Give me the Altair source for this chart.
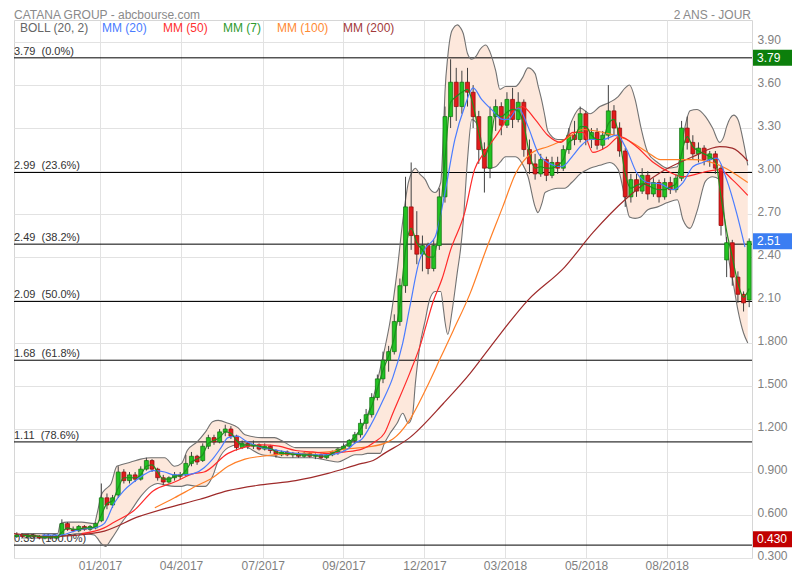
import altair as alt
import pandas as pd

# ---------------- data ----------------
# x = trading-session index; one candle per 4 sessions
candle_day = list(range(2, 524, 4))
opens = [0.45, 0.46, 0.45, 0.46, 0.45, 0.44, 0.45, 0.44, 0.46, 0.54,
         0.50, 0.49, 0.52, 0.50, 0.51, 0.56, 0.72, 0.67, 0.74, 0.90,
         0.84, 0.88, 0.85, 0.92, 0.98, 0.92, 0.86, 0.83, 0.86, 0.88,
         0.88, 0.96, 1.01, 0.98, 1.08, 1.14, 1.11, 1.18, 1.20, 1.15,
         1.07, 1.10, 1.08, 1.09, 1.06, 1.08, 1.05, 1.02, 1.04, 1.02,
         1.03, 1.01, 1.03, 1.01, 1.02, 1.00, 1.02, 1.04, 1.06, 1.08,
         1.12, 1.16, 1.24, 1.30, 1.42, 1.55, 1.68, 1.74, 1.95, 2.20,
         2.75, 2.55, 2.42, 2.48, 2.32, 2.48, 2.82, 3.38, 3.62, 3.45,
         3.62, 3.55, 3.38, 3.15, 3.02, 3.38, 3.45, 3.32, 3.50, 3.36,
         3.48, 3.15, 3.05, 2.98, 3.08, 2.97, 3.06, 3.02, 3.15, 3.25,
         3.22, 3.40, 3.22, 3.27, 3.18, 3.25, 3.42, 3.30, 3.14, 2.82,
         2.94, 2.86, 2.97, 2.84, 2.92, 2.82, 2.92, 2.87, 2.95, 3.30,
         3.20, 3.12, 3.16, 3.08, 3.12, 3.02, 2.38, 2.50, 2.26, 2.14,
         2.10]
highs = [0.48, 0.47, 0.47, 0.47, 0.46, 0.46, 0.46, 0.46, 0.57, 0.55,
         0.52, 0.53, 0.53, 0.53, 0.55, 0.82, 0.75, 0.74, 0.94, 0.92,
         0.90, 0.90, 0.94, 1.00, 0.99, 0.93, 0.88, 0.87, 0.90, 0.90,
         1.02, 1.04, 1.02, 1.10, 1.16, 1.16, 1.20, 1.23, 1.22, 1.16,
         1.12, 1.11, 1.12, 1.10, 1.10, 1.09, 1.06, 1.05, 1.05, 1.04,
         1.04, 1.04, 1.04, 1.03, 1.03, 1.03, 1.05, 1.07, 1.10, 1.13,
         1.18, 1.27, 1.34, 1.45, 1.58, 1.74, 1.78, 2.00, 2.25, 2.96,
         3.06, 2.72, 2.55, 2.50, 2.52, 2.88, 3.45, 3.78, 3.72, 3.70,
         3.72, 3.60, 3.42, 3.20, 3.45, 3.50, 3.48, 3.55, 3.58, 3.55,
         3.50, 3.22, 3.12, 3.12, 3.10, 3.10, 3.10, 3.18, 3.30, 3.35,
         3.45, 3.42, 3.30, 3.30, 3.28, 3.60, 3.46, 3.34, 3.16, 2.98,
         2.98, 3.02, 3.00, 2.95, 2.94, 2.95, 2.96, 2.98, 3.35, 3.38,
         3.25, 3.20, 3.18, 3.14, 3.14, 3.04, 2.54, 2.52, 2.30, 2.16,
         2.53]
lows = [0.44, 0.44, 0.44, 0.44, 0.43, 0.43, 0.43, 0.43, 0.45, 0.49,
        0.48, 0.48, 0.49, 0.49, 0.50, 0.55, 0.64, 0.65, 0.72, 0.82,
        0.82, 0.83, 0.84, 0.91, 0.90, 0.84, 0.81, 0.82, 0.84, 0.85,
        0.87, 0.94, 0.95, 0.97, 1.06, 1.09, 1.10, 1.15, 1.13, 1.05,
        1.06, 1.06, 1.06, 1.05, 1.05, 1.03, 1.00, 1.01, 1.01, 1.00,
        1.00, 1.00, 1.00, 0.99, 0.99, 0.99, 1.01, 1.02, 1.05, 1.07,
        1.10, 1.14, 1.20, 1.28, 1.40, 1.52, 1.60, 1.72, 1.92, 2.15,
        2.45, 2.35, 2.30, 2.28, 2.30, 2.45, 2.78, 3.30, 3.35, 3.40,
        3.45, 3.30, 3.05, 2.85, 2.95, 3.28, 3.25, 3.30, 3.30, 3.34,
        3.10, 2.98, 2.94, 2.96, 2.93, 2.95, 2.98, 3.00, 3.12, 3.18,
        3.20, 3.18, 3.16, 3.15, 3.15, 3.22, 3.25, 3.10, 2.75, 2.78,
        2.82, 2.84, 2.80, 2.82, 2.78, 2.80, 2.84, 2.85, 2.93, 3.15,
        3.08, 3.06, 3.04, 3.03, 2.98, 2.55, 2.26, 2.20, 2.08, 2.02,
        2.05]
closes = [0.46, 0.45, 0.46, 0.45, 0.44, 0.45, 0.44, 0.45, 0.54, 0.50,
          0.49, 0.52, 0.50, 0.52, 0.54, 0.72, 0.67, 0.72, 0.90, 0.84,
          0.88, 0.85, 0.92, 0.98, 0.92, 0.86, 0.83, 0.86, 0.88, 0.87,
          0.96, 1.01, 0.97, 1.08, 1.14, 1.11, 1.18, 1.20, 1.15, 1.07,
          1.10, 1.08, 1.09, 1.06, 1.08, 1.05, 1.02, 1.04, 1.02, 1.03,
          1.01, 1.03, 1.01, 1.02, 1.00, 1.02, 1.04, 1.06, 1.08, 1.12,
          1.16, 1.24, 1.30, 1.42, 1.55, 1.68, 1.74, 1.95, 2.20, 2.75,
          2.55, 2.42, 2.48, 2.32, 2.48, 2.82, 3.38, 3.62, 3.45, 3.62,
          3.55, 3.38, 3.15, 3.02, 3.38, 3.45, 3.32, 3.50, 3.36, 3.48,
          3.15, 3.05, 2.98, 3.08, 2.97, 3.06, 3.02, 3.15, 3.25, 3.22,
          3.40, 3.22, 3.27, 3.18, 3.25, 3.42, 3.30, 3.14, 2.82, 2.94,
          2.86, 2.97, 2.84, 2.92, 2.82, 2.92, 2.87, 2.95, 3.30, 3.20,
          3.12, 3.16, 3.08, 3.12, 3.02, 2.62, 2.50, 2.26, 2.14, 2.08,
          2.51]

ma7_day = candle_day[1:]
ma7 = [0.46, 0.455, 0.455, 0.45, 0.445, 0.445, 0.445, 0.48, 0.51, 0.50,
       0.50, 0.51, 0.51, 0.52, 0.60, 0.68, 0.70, 0.79, 0.86, 0.86,
       0.86, 0.88, 0.94, 0.95, 0.90, 0.85, 0.85, 0.87, 0.875, 0.91,
       0.97, 0.99, 1.02, 1.10, 1.12, 1.14, 1.18, 1.17, 1.12, 1.09,
       1.09, 1.085, 1.08, 1.07, 1.065, 1.04, 1.03, 1.03, 1.025, 1.02,
       1.02, 1.02, 1.015, 1.01, 1.01, 1.03, 1.05, 1.07, 1.10, 1.14,
       1.20, 1.27, 1.36, 1.48, 1.61, 1.71, 1.84, 2.07, 2.45, 2.60,
       2.50, 2.45, 2.40, 2.40, 2.63, 3.08, 3.48, 3.52, 3.55, 3.57,
       3.46, 3.27, 3.10, 3.20, 3.40, 3.38, 3.41, 3.43, 3.42, 3.32,
       3.12, 3.02, 3.03, 3.02, 3.02, 3.04, 3.08, 3.20, 3.23, 3.31,
       3.31, 3.25, 3.22, 3.22, 3.33, 3.36, 3.22, 2.98, 2.88, 2.90,
       2.91, 2.90, 2.88, 2.87, 2.87, 2.89, 2.91, 3.12, 3.24, 3.17,
       3.14, 3.12, 3.10, 3.07, 2.82, 2.58, 2.40, 2.22, 2.12, 2.18]

ma20_day = [20, 33, 47, 57, 64, 71, 78, 85, 92, 99, 107, 114, 121, 128, 135,
            141, 147, 152, 159, 164, 176, 188, 200, 212, 223, 230, 237, 242,
            247, 254, 261, 269, 276, 281, 288, 292, 299, 306, 313, 320, 326,
            332, 339, 347, 351, 358, 365, 372, 379, 389, 397, 402, 409, 418,
            428, 435, 442, 450, 459, 468, 475, 482, 489, 499, 506, 513, 519]
ma20 = [0.46, 0.46, 0.50, 0.51, 0.54, 0.68, 0.77, 0.83, 0.88, 0.91, 0.90,
        0.88, 0.88, 0.89, 0.93, 0.99, 1.07, 1.14, 1.15, 1.12, 1.07, 1.05,
        1.03, 1.02, 1.02, 1.03, 1.06, 1.10, 1.13, 1.24, 1.38, 1.56, 1.80,
        2.05, 2.38, 2.46, 2.54, 2.85, 3.22, 3.45, 3.58, 3.50, 3.43, 3.36,
        3.36, 3.44, 3.31, 3.13, 3.06, 3.03, 3.11, 3.17, 3.22, 3.22, 3.25,
        3.15, 2.99, 2.92, 2.91, 2.87, 2.92, 3.03, 3.06, 3.09, 2.94, 2.71,
        2.47]

ma50_day = [48, 64, 71, 85, 99, 114, 128, 135, 152, 176, 188, 200, 212, 223,
            235, 247, 256, 263, 269, 281, 288, 298, 304, 310, 320, 327, 334,
            344, 351, 361, 370, 379, 388, 397, 404, 411, 421, 430, 442, 454,
            466, 475, 489, 501, 510, 521]
ma50 = [0.47, 0.51, 0.55, 0.63, 0.77, 0.83, 0.89, 0.90, 1.03, 1.09, 1.08,
        1.05, 1.04, 1.03, 1.04, 1.06, 1.11, 1.17, 1.31, 1.59, 1.77, 2.10,
        2.25, 2.45, 2.71, 3.01, 3.13, 3.27, 3.38, 3.45, 3.36, 3.25, 3.20,
        3.27, 3.27, 3.13, 3.17, 3.24, 3.17, 3.06, 2.99, 2.96, 2.99, 3.01,
        2.94, 2.83]

ma100_day = [100, 114, 129, 141, 152, 164, 176, 200, 223, 235, 247, 263, 269,
             280, 293, 303, 312, 324, 334, 347, 356, 368, 379, 391, 404, 418,
             435, 450, 459, 482, 501, 512, 521]
ma100 = [0.65, 0.72, 0.80, 0.86, 0.94, 0.99, 1.01, 1.03, 1.04, 1.06, 1.07,
         1.10, 1.13, 1.25, 1.49, 1.70, 1.89, 2.15, 2.42, 2.75, 2.98, 3.13,
         3.17, 3.22, 3.29, 3.27, 3.22, 3.13, 3.08, 3.08, 3.04, 2.98, 2.92]

ma200_day = [0, 26, 61, 89, 109, 132, 152, 175, 200, 223, 247, 255, 263, 281,
             305, 324, 338, 365, 391, 411, 435, 459, 482, 501, 510, 521]
ma200 = [0.47, 0.45, 0.48, 0.59, 0.65, 0.71, 0.77, 0.81, 0.84, 0.89, 0.96,
         0.98, 1.03, 1.14, 1.38, 1.59, 1.77, 2.10, 2.33, 2.57, 2.81, 2.99,
         3.10, 3.17, 3.16, 3.07]

boll_day = [5, 18, 31, 33, 38, 48, 57, 59, 62, 65,
            69, 73, 76, 83, 90, 97, 102, 107, 114, 119,
            123, 130, 136, 141, 145, 152, 159, 164, 176, 185,
            190, 200, 212, 223, 230, 237, 242, 247, 251, 254,
            260, 263, 267, 272, 276, 280, 283, 285, 288, 292,
            295, 299, 303, 305, 306, 308, 311, 315, 317, 319,
            322, 325, 328, 331, 335, 338, 342, 345, 349, 356,
            361, 365, 370, 372, 375, 377, 379, 386, 391, 396,
            402, 409, 416, 423, 429, 434, 437, 441, 445, 450,
            457, 464, 471, 475, 480, 485, 491, 496, 501, 504,
            506, 511, 514, 518, 521]
boll_up = [0.47, 0.47, 0.47, 0.54, 0.55, 0.55, 0.54, 0.61, 0.74, 0.78,
           0.82, 0.94, 0.95, 0.97, 0.99, 1.00, 1.00, 1.00, 0.94, 0.96,
           1.05, 1.11, 1.18, 1.25, 1.26, 1.24, 1.21, 1.16, 1.14, 1.14,
           1.12, 1.07, 1.07, 1.07, 1.07, 1.10, 1.15, 1.21, 1.30, 1.38,
           1.62, 1.75, 1.95, 2.30, 2.65, 2.92, 3.00, 3.02, 2.98, 2.94,
           2.88, 2.85, 2.92, 3.30, 3.55, 3.80, 3.98, 4.02, 4.00, 3.96,
           3.82, 3.78, 3.80, 3.85, 3.88, 3.83, 3.70, 3.57, 3.59, 3.59,
           3.65, 3.72, 3.68, 3.60, 3.48, 3.38, 3.28, 3.22, 3.22, 3.35,
           3.44, 3.40, 3.45, 3.48, 3.52, 3.58, 3.60, 3.50, 3.31, 3.13,
           3.06, 3.02, 3.03, 3.24, 3.42, 3.43, 3.38, 3.30, 3.20, 3.24,
           3.31, 3.39, 3.36, 3.20, 3.04]
boll_low = [0.44, 0.44, 0.44, 0.45, 0.46, 0.47, 0.46, 0.44, 0.40, 0.38,
            0.43, 0.49, 0.54, 0.63, 0.73, 0.80, 0.82, 0.81, 0.80, 0.80,
            0.81, 0.80, 0.80, 0.87, 0.98, 1.07, 1.09, 1.08, 1.02, 1.01,
            1.00, 1.00, 1.00, 0.98, 0.97, 1.00, 1.02, 1.02, 1.03, 1.03,
            1.03, 1.10, 1.17, 1.24, 1.31, 1.24, 1.30, 1.52, 1.77, 1.96,
            2.10, 2.16, 2.16, 2.03, 1.95, 1.86, 2.02, 2.31, 2.45, 2.65,
            3.08, 3.36, 3.34, 3.25, 3.03, 3.02, 3.03, 3.06, 3.10, 3.10,
            3.05, 2.96, 2.75, 2.71, 2.78, 2.85, 2.86, 2.88, 2.88, 2.92,
            2.98, 3.02, 3.04, 3.06, 3.01, 2.80, 2.68, 2.67, 2.68, 2.73,
            2.75, 2.78, 2.80, 2.66, 2.60, 2.72, 2.93, 2.96, 2.94, 2.73,
            2.50, 2.20, 2.03, 1.87, 1.80]

fib_values = [3.79, 2.99, 2.49, 2.09, 1.68, 1.11, 0.39]
fib_pcts = ["0.0%", "23.6%", "38.2%", "50.0%", "61.8%", "78.6%", "100.0%"]

tick_days = [61.1, 118.6, 176.6, 233.9, 291.4, 348.6, 406.2, 463.5]
tick_labels = ["01/2017", "04/2017", "07/2017", "09/2017", "12/2017",
               "03/2018", "05/2018", "08/2018"]
price_ticks = [0.3, 0.6, 0.9, 1.2, 1.5, 1.8, 2.1, 2.4, 2.7, 3.0, 3.3, 3.6, 3.9]

badge_prices = [3.79, 2.51, 0.43]
badge_labels = ["3.79", "2.51", "0.430"]
badge_kinds = ["fib", "last", "low"]

legend_labels = ["BOLL (20, 2)", "MM (20)", "MM (50)", "MM (7)", "MM (100)", "MM (200)"]

# ---------------- styling / layout ----------------
FONT = "Liberation Sans"
W, H = 738, 538
legend_colors = ["#666666", "#4a7cff", "#ff3030", "#2e9a2e", "#ff8a33", "#a33a3a"]
legend_x = [6, 88, 149, 209, 263, 329]

xs = alt.Scale(domain=[0, 524], nice=False, zero=False, padding=0)
ys = alt.Scale(domain=[0.3, 4.054], nice=False, zero=False, padding=0)

labels_js = "[" + ",".join(f"'{l}'" for l in tick_labels) + "]"
values_js = "[" + ",".join(str(v) for v in tick_days) + "]"
x_axis = alt.Axis(title=None, values=tick_days,
                  labelExpr=f"{labels_js}[indexof({values_js}, datum.value)]",
                  grid=True, gridColor="#e2e2e2", ticks=False, domain=False,
                  labelColor="#7f7f7f", labelFont=FONT, labelFontSize=12,
                  labelPadding=2, labelFlush=False, labelOverlap=False)
y_axis = alt.Axis(title=None, orient="right", values=price_ticks,
                  labelExpr="datum.value >= 2 ? format(datum.value, '.2f') : format(datum.value, '.3f')",
                  grid=True, gridColor="#e2e2e2", ticks=False, domain=False,
                  labelColor="#7f7f7f", labelFont=FONT, labelFontSize=12,
                  labelPadding=5, labelOffset=-3, labelOverlap=False, labelAlign="left")


def X(f):
    return alt.X(f"{f}:Q", scale=xs, axis=x_axis)


def Y(f):
    return alt.Y(f"{f}:Q", scale=ys, axis=y_axis)


band_df = pd.DataFrame({"day": boll_day, "up": boll_up, "lo": boll_low})
band_fill = alt.Chart(band_df).mark_area(color="#fde8dc", opacity=1, interpolate="monotone").encode(
    x=X("day"), y=Y("lo"), y2="up:Q")
band_up = alt.Chart(band_df).mark_line(color="#727272", strokeWidth=1.1, interpolate="monotone").encode(
    x=X("day"), y=Y("up"))
band_lo = alt.Chart(band_df).mark_line(color="#727272", strokeWidth=1.1, interpolate="monotone").encode(
    x=X("day"), y=Y("lo"))

fib_df = pd.DataFrame({"price": fib_values,
                       "label": [f"{v:.2f}\u00a0\u00a0({p})" for v, p in zip(fib_values, fib_pcts)]})
fib_rules = alt.Chart(fib_df).mark_rule(color="#000000", strokeWidth=1).encode(y=Y("price"))
fib_text = alt.Chart(fib_df).mark_text(align="left", baseline="alphabetic", dy=-3, font=FONT,
                                       fontSize=11, color="#333333").encode(
    x=alt.value(0), y=Y("price"), text="label:N")

cdf = pd.DataFrame({"day": candle_day, "open": opens, "high": highs, "low": lows, "close": closes})
cdf["dir"] = ["up" if c >= o else "down" for o, c in zip(opens, closes)]
wicks = alt.Chart(cdf).mark_rule(color="#404040", strokeWidth=1).encode(
    x=X("day"), y=Y("low"), y2="high:Q")
bodies = alt.Chart(cdf).mark_bar(size=4, strokeWidth=0.7).encode(
    x=X("day"), y=Y("open"), y2="close:Q",
    fill=alt.Fill("dir:N", scale=alt.Scale(domain=["up", "down"], range=["#22c222", "#e11b1b"]), legend=None),
    stroke=alt.Stroke("dir:N", scale=alt.Scale(domain=["up", "down"], range=["#0f6f0f", "#8c0b0b"]), legend=None))


def ma_line(days, vals, color, width=1.2):
    df = pd.DataFrame({"day": days, "v": vals})
    return alt.Chart(df).mark_line(color=color, strokeWidth=width, interpolate="monotone").encode(
        x=X("day"), y=Y("v"))


l200 = ma_line(ma200_day, ma200, "#9e2a2a")
l100 = ma_line(ma100_day, ma100, "#ff7f27")
l50 = ma_line(ma50_day, ma50, "#ff2a2a")
l20 = ma_line(ma20_day, ma20, "#4a7cff")
l7 = ma_line(ma7_day, ma7, "#1d8f1d")

legend_layers = []
for lbl, col, xp in zip(legend_labels, legend_colors, legend_x):
    legend_layers.append(
        alt.Chart(pd.DataFrame({"t": [lbl]})).mark_text(
            align="left", baseline="middle", font=FONT, fontSize=12, color=col).encode(
            x=alt.value(xp), y=alt.value(8), text="t:N"))

title_l = alt.Chart(pd.DataFrame({"t": ["CATANA GROUP - abcbourse.com"]})).mark_text(
    align="left", baseline="middle", font=FONT, fontSize=12, color="#8a8a8a").encode(
    x=alt.value(0), y=alt.value(-5), text="t:N")
title_r = alt.Chart(pd.DataFrame({"t": ["2 ANS - JOUR"]})).mark_text(
    align="right", baseline="middle", font=FONT, fontSize=12, color="#8a8a8a").encode(
    x=alt.value(737), y=alt.value(-5), text="t:N")

badge_df = pd.DataFrame({"price": badge_prices, "label": badge_labels, "kind": badge_kinds})
badge_rect = alt.Chart(badge_df).mark_rect(yOffset=-8, y2Offset=8).encode(
    x=alt.value(739), x2=alt.value(778), y=Y("price"), y2="price:Q",
    color=alt.Color("kind:N", scale=alt.Scale(domain=["fib", "last", "low"],
                                              range=["#0c7f0c", "#3b7ef2", "#c10000"]), legend=None))
badge_text = alt.Chart(badge_df).mark_text(align="left", baseline="middle", font=FONT,
                                           fontSize=12, color="#ffffff").encode(
    x=alt.value(743), y=Y("price"), text="label:N")

chart = alt.layer(
    band_fill, fib_rules, band_up, band_lo, fib_text,
    wicks, bodies, l200, l100, l50, l20, l7,
    *legend_layers, title_l, title_r, badge_rect, badge_text
).properties(
    width=W, height=H,
    padding={"left": 6, "top": 12, "right": 40, "bottom": 14},
    autosize=alt.AutoSizeParams(type="none"),
    background="white"
).configure_view(stroke="#d6d6d6", strokeWidth=1)

chart.save("out.html", embed_options={"renderer": "svg", "actions": False})
